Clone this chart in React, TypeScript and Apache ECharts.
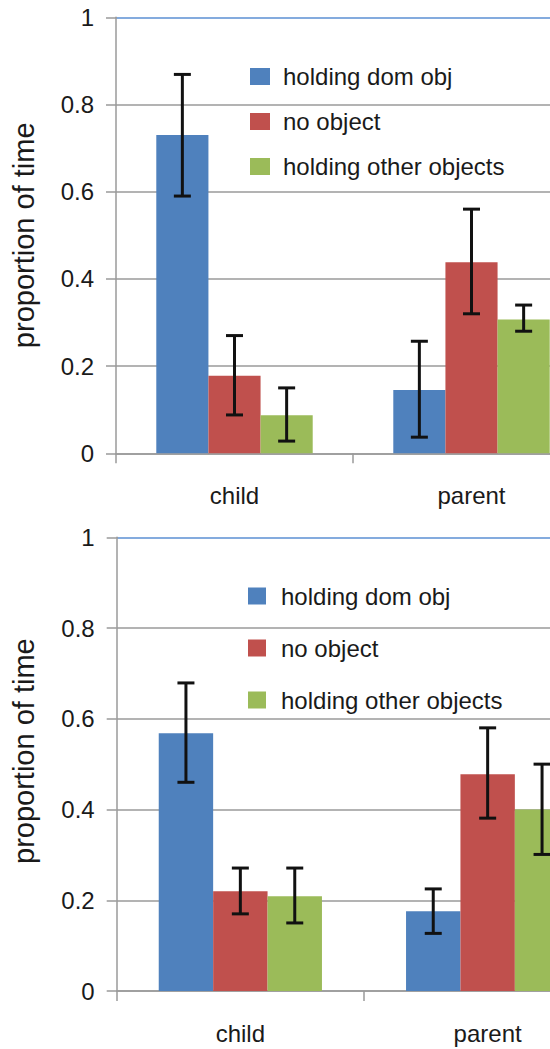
import React, { useEffect, useRef } from "react";
import * as echarts from "echarts";

const categories = ["child", "parent"];
const seriesNames = ["holding dom obj", "no object", "holding other objects"];
const colors = ["#4F81BD", "#C0504D", "#9BBB59"];
const yTicks = [0, 0.2, 0.4, 0.6, 0.8, 1];

// Panel 1 (top)
const p1Dom = [0.73, 0.145];
const p1DomLo = [0.59, 0.037];
const p1DomHi = [0.869, 0.257];
const p1No = [0.178, 0.438];
const p1NoLo = [0.088, 0.32];
const p1NoHi = [0.27, 0.56];
const p1Other = [0.087, 0.307];
const p1OtherLo = [0.028, 0.28];
const p1OtherHi = [0.15, 0.34];

// Panel 2 (bottom)
const p2Dom = [0.568, 0.176];
const p2DomLo = [0.46, 0.127];
const p2DomHi = [0.679, 0.225];
const p2No = [0.22, 0.478];
const p2NoLo = [0.17, 0.381];
const p2NoHi = [0.271, 0.58];
const p2Other = [0.209, 0.4];
const p2OtherLo = [0.15, 0.301];
const p2OtherHi = [0.271, 0.5];

const FONT = "Liberation Sans";
const BAR_FRAC = 0.22;

export default function App() {
  const ref = useRef<HTMLDivElement>(null);

  useEffect(() => {
    if (!ref.current) return;
    const chart = echarts.init(ref.current, undefined, { renderer: "svg" });

    const panels = [
      { means: [p1Dom, p1No, p1Other], lo: [p1DomLo, p1NoLo, p1OtherLo], hi: [p1DomHi, p1NoHi, p1OtherHi] },
      { means: [p2Dom, p2No, p2Other], lo: [p2DomLo, p2NoLo, p2OtherLo], hi: [p2DomHi, p2NoHi, p2OtherHi] },
    ];

    const series: any[] = [];
    panels.forEach((p, pi) => {
      p.means.forEach((vals, si) => {
        series.push({
          type: "bar",
          name: seriesNames[si],
          xAxisIndex: pi,
          yAxisIndex: pi,
          data: vals,
          barGap: "0%",
          barCategoryGap: "34%",
          itemStyle: { color: colors[si] },
          z: 2,
        });
      });
      p.means.forEach((vals, si) => {
        const offset = si - 1;
        series.push({
          type: "custom",
          name: "err" + pi + "_" + si,
          xAxisIndex: pi,
          yAxisIndex: pi,
          z: 5,
          encode: { x: 0, y: [1, 2] },
          data: vals.map((_, ci) => [ci, p.lo[si][ci], p.hi[si][ci]]),
          renderItem: (params: any, api: any) => {
            const c = api.value(0);
            const lo = api.coord([c, api.value(1)]);
            const hi = api.coord([c, api.value(2)]);
            const band = api.size([1, 0])[0];
            const cx = lo[0] + offset * band * BAR_FRAC;
            const half = 8.5;
            const style = { stroke: "#111", lineWidth: 3 };
            return {
              type: "group",
              children: [
                { type: "line", shape: { x1: cx, y1: hi[1], x2: cx, y2: lo[1] }, style },
                { type: "line", shape: { x1: cx - half, y1: hi[1], x2: cx + half, y2: hi[1] }, style },
                { type: "line", shape: { x1: cx - half, y1: lo[1], x2: cx + half, y2: lo[1] }, style },
              ],
            };
          },
        });
      });
    });

    const gridLineColors = yTicks.map((t) => (t === 1 ? "#5B8FD3" : "#9a9a9a"));

    const mkX = (gi: number) => ({
      type: "category",
      gridIndex: gi,
      data: categories,
      axisLine: { show: true, lineStyle: { color: "#9a9a9a", width: 1.5 } },
      axisTick: { show: true, length: 10, alignWithLabel: false, lineStyle: { color: "#9a9a9a", width: 1.5 } },
      axisLabel: { color: "#1a1a1a", fontSize: 24, fontFamily: FONT, margin: 30 },
    });

    const mkY = (gi: number, shiftUp: number) => ({
      type: "value",
      gridIndex: gi,
      min: 0,
      max: 1,
      interval: 0.2,
      name: "proportion of time",
      nameLocation: "middle",
      nameRotate: 90,
      nameGap: 78,
      nameTextStyle: {
        color: "#1a1a1a",
        fontSize: 29,
        fontFamily: FONT,
        padding: [0, 0, 0, shiftUp * 2],
      },
      axisLine: { show: true, lineStyle: { color: "#9a9a9a", width: 1.5 } },
      axisTick: { show: true, length: 10, lineStyle: { color: "#9a9a9a", width: 1.5 } },
      splitLine: { show: true, lineStyle: { color: gridLineColors, width: 1.5 } },
      axisLabel: { color: "#1a1a1a", fontSize: 24, fontFamily: FONT, margin: 22 },
    });

    chart.setOption({
      animation: false,
      backgroundColor: "#ffffff",
      grid: [
        { left: 116, top: 17.3, width: 474, height: 436 },
        { left: 116.7, top: 537.3, width: 494.6, height: 453.7 },
      ],
      xAxis: [mkX(0), mkX(1)],
      yAxis: [mkY(0, 0), mkY(1, 13)],
      legend: [
        {
          data: seriesNames,
          orient: "vertical",
          left: 245,
          top: 57.5,
          itemWidth: 20,
          itemHeight: 17,
          itemGap: 17,
          icon: "rect",
          selectedMode: false,
          textStyle: { color: "#1a1a1a", fontSize: 24, fontFamily: FONT, lineHeight: 28, padding: [0, 0, 0, 8] },
        },
        {
          data: seriesNames,
          orient: "vertical",
          left: 243,
          top: 577,
          itemWidth: 18,
          itemHeight: 17,
          itemGap: 24,
          icon: "rect",
          selectedMode: false,
          textStyle: { color: "#1a1a1a", fontSize: 24, fontFamily: FONT, lineHeight: 28, padding: [0, 0, 0, 10] },
        },
      ],
      series,
    });

    return () => chart.dispose();
  }, []);

  return (
    <div
      style={{ position: "fixed", left: 0, top: 0, width: 550, height: 1049, overflow: "hidden", background: "#fff" }}
    >
      <div ref={ref} style={{ width: 640, height: 1049 }} />
    </div>
  );
}
